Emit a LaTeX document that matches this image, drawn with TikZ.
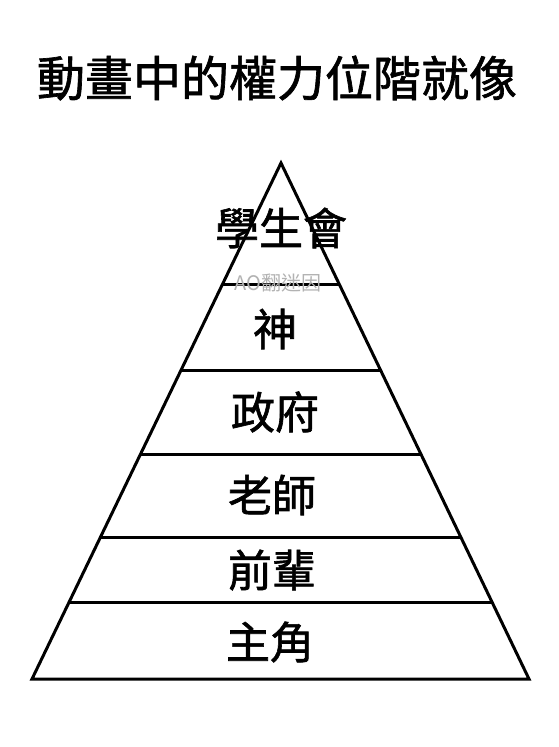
\documentclass[tikz,border=0pt]{standalone}
\usepackage{fontspec}
\newfontfamily\cjk{Noto Sans CJK TC}
\newfontfamily\cjkm{Noto Sans CJK TC}[FakeBold=1.4]
\usetikzlibrary{calc}
\tikzset{
  edge/.style={line width=3pt, line join=miter},
  title/.style={font=\cjkm\fontsize{48}{48}\selectfont, inner sep=0pt},
  tier/.style={font=\cjkm\fontsize{44}{44}\selectfont, inner sep=0pt},
  wm/.style={font=\cjk\fontsize{20}{20}\selectfont, text=black!30, inner sep=0pt}
}
\begin{document}
\begin{tikzpicture}[x=1pt,y=-1pt]
\useasboundingbox (0,0) rectangle (558,747);
\node[title] (t) at (277,78) {動畫中的權力位階就像};
\coordinate (A) at (281,163);
\coordinate (L) at (32,679);
\coordinate (R) at (529,679);
\draw[edge] (A) -- (L) -- (R) -- cycle;
\foreach \t/\n in {0.2345/a,0.4012/b,0.5640/c,0.7248/d,0.8508/e}{
  \coordinate (l\n) at ($(A)!\t!(L)$);
  \coordinate (r\n) at ($(A)!\t!(R)$);
  \draw[edge] (l\n) -- (r\n);
}
\node[wm] (w) at (278,283) {AO翻迷因};
\node[tier] (s1) at (281,228) {學生會};
\node[tier] (s2) at (275,329) {神};
\node[tier] (s3) at (275,412) {政府};
\node[tier] (s4) at (272,495) {老師};
\node[tier] (s5) at (272,570) {前輩};
\node[tier] (s6) at (270,642) {主角};
\end{tikzpicture}
\end{document}
